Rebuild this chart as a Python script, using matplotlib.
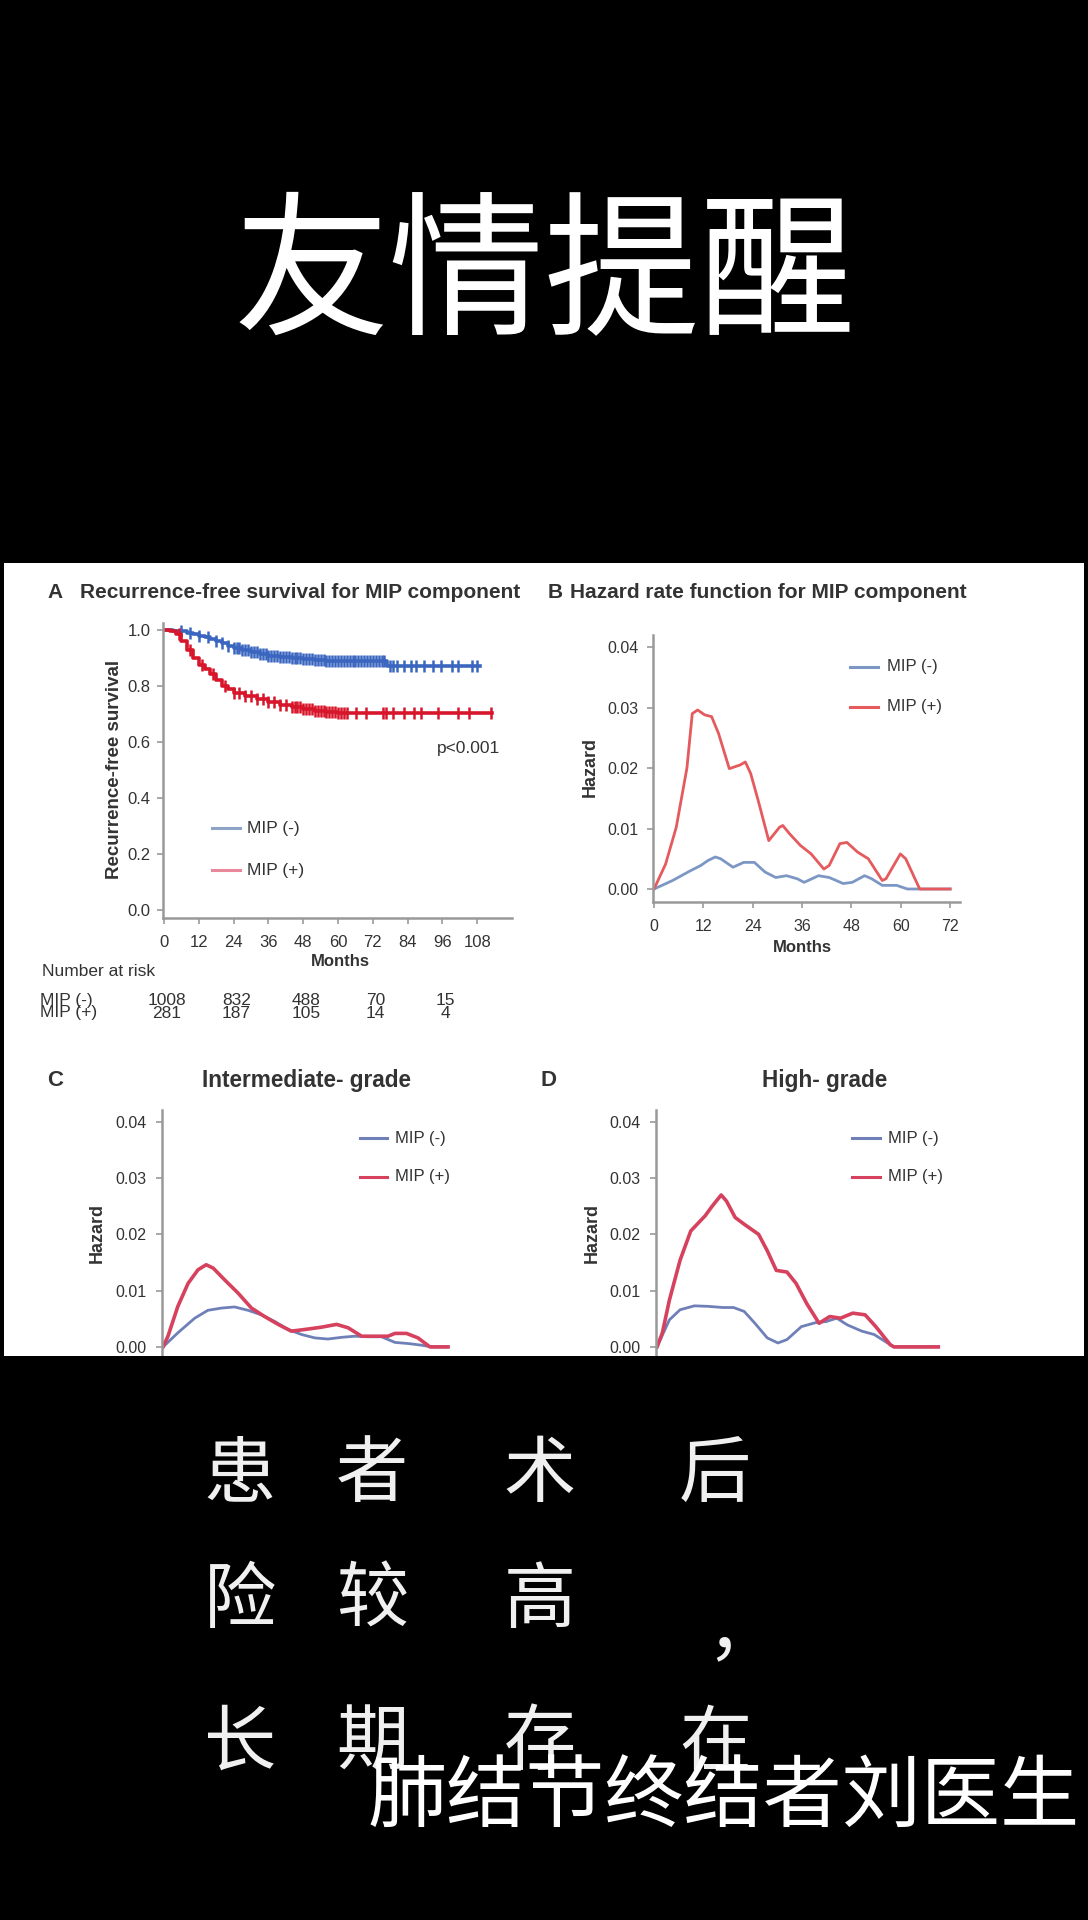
import numpy as np
import matplotlib
matplotlib.use("Agg")
import matplotlib.pyplot as plt
from matplotlib.patches import Rectangle
from matplotlib.lines import Line2D
from matplotlib.ticker import FormatStrFormatter

# ---- data ----
# A: Kaplan-Meier recurrence-free survival (step points)
KM_NEG_T = [0, 3, 6, 8, 10, 12, 14, 16, 18, 20, 22, 24, 27, 30, 33, 36, 40, 44, 48, 52, 56, 60, 77]
KM_NEG_S = [1.0, 0.998, 0.995, 0.99, 0.985, 0.98, 0.975, 0.968, 0.96, 0.952, 0.944, 0.936,
            0.928, 0.92, 0.913, 0.907, 0.902, 0.899, 0.896, 0.893, 0.891, 0.89, 0.87]
KM_POS_T = [0, 2, 4, 6, 8, 10, 12, 14, 16, 18, 20, 22, 24, 28, 32, 36, 40, 44, 48, 52, 56, 60]
KM_POS_S = [1.0, 0.995, 0.985, 0.96, 0.93, 0.9, 0.876, 0.86, 0.842, 0.82, 0.8, 0.788, 0.776,
            0.764, 0.752, 0.742, 0.732, 0.724, 0.716, 0.71, 0.706, 0.702]
CENS_NEG = [6, 9, 12, 15, 18, 20, 22, 24, 25, 26, 27, 28, 29, 30, 31, 32, 33, 34, 35, 36, 37, 38,
            39, 40, 41, 42, 43, 44, 45, 46, 47, 48, 49, 50, 51, 52, 53, 54, 55, 56, 57, 58, 59,
            60, 61, 62, 63, 64, 65, 66, 67, 68, 69, 70, 71, 72, 73, 74, 75, 76, 77.9, 79, 80.3,
            82.6, 85, 86.8, 89.7, 92.7, 95.6, 99.2, 101.5, 106.3, 108]
CENS_POS = [5, 9, 13, 17, 21, 24, 26, 28, 30, 32, 34, 36, 38, 40, 42, 44, 45, 46, 47, 48, 49, 50,
            51, 52, 53, 54, 55, 56, 57, 58, 59, 60, 61, 62, 63, 66.1, 69.7, 75.6, 76.7, 79.1,
            82.6, 86.2, 88.5, 94.5, 101.5, 105.1, 112.7]
KM_END_NEG = 109
KM_END_POS = 113
RISK_MONTHS = [0, 24, 48, 72, 96]
RISK_NEG = [1008, 832, 488, 70, 15]
RISK_POS = [281, 187, 105, 14, 4]

# B: hazard rate, all patients
B_NEG_X = [0, 4.5, 8.8, 11.4, 13.1, 14.9, 16.2, 19.2, 21.8, 24.4, 27, 29.6, 32.2, 34.8, 36.5,
           40, 42.6, 46, 48.2, 51.2, 52.9, 55.5, 59, 61.6, 72]
B_NEG_Y = [0, 0.0014, 0.003, 0.0039, 0.0047, 0.0053, 0.005, 0.0036, 0.0044, 0.0044, 0.0028,
           0.0019, 0.0022, 0.0017, 0.0011, 0.0022, 0.0019, 0.0009, 0.0011, 0.0022, 0.0017,
           0.0006, 0.0006, 0, 0]
B_POS_X = [0, 2.8, 5.4, 8.0, 9.3, 10.6, 12.3, 14, 15.7, 18.3, 20.9, 22.2, 23.5, 25.3, 27.9,
           30.5, 31.3, 33.0, 35.6, 38.2, 41.3, 42.6, 45.2, 46.9, 49.5, 52.1, 55.5, 56.4, 59.9,
           61.2, 64.6, 72]
B_POS_Y = [0, 0.0041, 0.0102, 0.020, 0.029, 0.0296, 0.0288, 0.0285, 0.0257, 0.0199, 0.0205,
           0.021, 0.0191, 0.0147, 0.008, 0.0102, 0.0105, 0.0091, 0.0072, 0.0058, 0.0033,
           0.0039, 0.0075, 0.0077, 0.0061, 0.005, 0.0014, 0.0017, 0.0058, 0.005, 0, 0]

# C: intermediate grade
C_NEG_X = [0, 3.6, 7.7, 10.9, 14.2, 17.4, 20.7, 23.9, 27.2, 30.4, 33.7, 36.9, 40.1, 43.4, 46.6,
           49.9, 53.1, 56.4, 59.6, 62.9, 65.3, 69.3]
C_NEG_Y = [0, 0.0025, 0.0051, 0.0065, 0.0069, 0.0071, 0.0065, 0.0057, 0.0045, 0.0031, 0.0022,
           0.0016, 0.0014, 0.0017, 0.0019, 0.0018, 0.0018, 0.0008, 0.0006, 0.0003, 0, 0]
C_POS_X = [0, 1.2, 3.6, 6.1, 8.5, 10.5, 12.2, 15, 18.2, 21.5, 24.7, 28, 31.2, 34.5, 38.5, 42.2,
           45, 48.3, 51.5, 54.7, 56.4, 59.2, 62, 64.9, 69.3]
C_POS_Y = [0, 0.0019, 0.0072, 0.0113, 0.0137, 0.0146, 0.014, 0.0119, 0.0096, 0.0069, 0.0054,
           0.004, 0.0028, 0.0031, 0.0035, 0.004, 0.0034, 0.0019, 0.0019, 0.0019, 0.0024,
           0.0024, 0.0016, 0, 0]

# D: high grade
D_NEG_X = [0, 3, 5.6, 9.1, 12.6, 16, 18.6, 21.2, 23.8, 26.8, 29.4, 31.6, 35.1, 38.5, 41.1,
           43.7, 46.3, 49.8, 52.8, 56.7, 57.6, 68.4]
D_NEG_Y = [0, 0.0048, 0.0066, 0.0073, 0.0072, 0.007, 0.007, 0.0063, 0.0042, 0.0016, 0.0007,
           0.0013, 0.0036, 0.0043, 0.0045, 0.0051, 0.0039, 0.0028, 0.0022, 0.0004, 0, 0]
D_POS_X = [0, 1.3, 3, 5.6, 8.2, 11.7, 13.4, 15.6, 16.9, 19, 21.2, 24.7, 26.8, 29, 31.6, 33.8,
           36.4, 39.4, 42, 44.6, 47.6, 50.6, 53.2, 56.7, 57.6, 68.4]
D_POS_Y = [0, 0.0025, 0.0083, 0.0154, 0.0206, 0.0233, 0.025, 0.027, 0.0259, 0.023, 0.0218,
           0.02, 0.0171, 0.0136, 0.0133, 0.0113, 0.0077, 0.0042, 0.0054, 0.0051, 0.006, 0.0057,
           0.0036, 0.0004, 0, 0]

TITLE_TOP = "友情提醒"
GRID_ROWS = ["患者术后", "险较高，", "长期存在"]
WATERMARK = "肺结节终结者刘医生"
LEGEND_LABELS = ["MIP (-)", "MIP (+)"]

# ---- styling ----
W, H = 1088, 1920
KM_BLUE, KM_RED = "#3a66c0", "#d8162b"
HZ_BLUE, HZ_RED = "#7d97c4", "#e55a5c"
G_BLUE, G_RED = "#6f80b8", "#d6415e"
AX_GRAY = "#999999"
TXT = "#333333"

plt.rcParams["font.family"] = ["Liberation Sans", "DejaVu Sans"]
CJK = ["Noto Sans CJK SC", "DejaVu Sans"]

fig = plt.figure(figsize=(W / 100, H / 100), dpi=100, facecolor="black")


def fx(x):
    return x / W


def fy(y):
    return 1 - y / H


def add_ax(left, top, right, bottom):
    return fig.add_axes([fx(left), fy(bottom), (right - left) / W, (bottom - top) / H])


def style(ax, fs, xpad, ypad):
    for s in ("top", "right"):
        ax.spines[s].set_visible(False)
    for s in ("left", "bottom"):
        ax.spines[s].set_color(AX_GRAY)
        ax.spines[s].set_linewidth(1.8)
    ax.tick_params(colors=AX_GRAY, labelcolor=TXT, labelsize=fs, length=4, width=1.2)
    ax.tick_params(axis="x", pad=xpad)
    ax.tick_params(axis="y", pad=ypad)
    ax.set_facecolor("white")


def labels(ax, ylab, ycoords, xlab=None, xcoords=None, fs=13):
    ax.set_ylabel(ylab, fontsize=fs, fontweight="bold", color=TXT)
    ax.yaxis.set_label_coords(*ycoords)
    ax.yaxis.label.set_va("center")
    if xlab:
        ax.set_xlabel(xlab, fontsize=12, fontweight="bold", color=TXT)
        ax.xaxis.set_label_coords(*xcoords)
        ax.xaxis.label.set_va("center")


def legend(colors, x0, x1, xt, ys, fs=12):
    for col, lab, yy in zip(colors, LEGEND_LABELS, ys):
        fig.add_artist(Line2D([fx(x0), fx(x1)], [fy(yy), fy(yy)], color=col, lw=2.2,
                              transform=fig.transFigure))
        fig.text(fx(xt), fy(yy), lab, fontsize=fs, color=TXT, va="center")


# white panel behind the charts
fig.add_artist(Rectangle((fx(4), fy(1356)), (1084 - 4) / W, (1356 - 563) / H,
                         transform=fig.transFigure, facecolor="white", edgecolor="none",
                         zorder=-1))

# ---- A: KM ----
axA = add_ax(163, 623, 512, 918)
style(axA, 12, 8, 5)
for t, s, cens, end, col in [(KM_NEG_T, KM_NEG_S, CENS_NEG, KM_END_NEG, KM_BLUE),
                             (KM_POS_T, KM_POS_S, CENS_POS, KM_END_POS, KM_RED)]:
    tt = np.array(t + [end])
    ss = np.array(s + [s[-1]])
    axA.step(tt, ss, where="post", color=col, lw=2.6)
    idx = np.searchsorted(tt, cens, side="right") - 1
    axA.plot(cens, ss[idx], ls="none", marker="|", ms=8, mew=1.8, color=col)
axA.set_xlim(-0.35, 120)
axA.set_ylim(-0.029, 1.025)
axA.set_xticks(range(0, 109, 12))
axA.set_yticks([0, 0.2, 0.4, 0.6, 0.8, 1.0])
axA.yaxis.set_major_formatter(FormatStrFormatter("%.1f"))
labels(axA, "Recurrence-free survival", (-0.140, 0.502), "Months", (0.507, -0.149), fs=13.5)
fig.text(fx(500), fy(748), "p<0.001", fontsize=12.5, color=TXT, ha="right", va="center")
legend(["#8ea3c6", "#e8889a"], 212, 240, 247, [828, 870], fs=12.5)

fig.text(fx(42), fy(972), "Number at risk", fontsize=12.5, color=TXT, va="center")
for row, (lab, vals) in enumerate([("MIP (-)", RISK_NEG), ("MIP (+)", RISK_POS)]):
    yy = fy(1000 + 13 * row)
    fig.text(fx(40), yy, lab, fontsize=12.5, color=TXT, va="center")
    for m, v in zip(RISK_MONTHS, vals):
        xd = axA.transData.transform((m, 0))[0]
        fig.text((xd + 3) / W, yy, str(v), fontsize=12.5, color=TXT, va="center", ha="center")

fig.text(fx(47), fy(593), "A", fontsize=15, fontweight="bold", color=TXT, va="center")
fig.text(fx(80), fy(593), "Recurrence-free survival for MIP component", fontsize=15,
         fontweight="bold", color=TXT, va="center")

# ---- B: hazard, all ----
axB = add_ax(653, 635, 960, 902)
style(axB, 11.5, 8, 6.5)
axB.plot(B_NEG_X, B_NEG_Y, color=HZ_BLUE, lw=2.0)
axB.plot(B_POS_X, B_POS_Y, color=HZ_RED, lw=2.0)
axB.set_xlim(-0.25, 74.4)
axB.set_ylim(-0.00215, 0.042)
axB.set_xticks(range(0, 73, 12))
axB.set_yticks([0, 0.01, 0.02, 0.03, 0.04])
axB.yaxis.set_major_formatter(FormatStrFormatter("%.2f"))
labels(axB, "Hazard", (-0.205, 0.506), "Months", (0.485, -0.169))
legend([HZ_BLUE, HZ_RED], 850, 878, 887, [667, 707])
fig.text(fx(548), fy(593), "B", fontsize=15, fontweight="bold", color=TXT, va="center")
fig.text(fx(570), fy(593), "Hazard rate function for MIP component", fontsize=15,
         fontweight="bold", color=TXT, va="center")

# ---- C / D: hazard by grade ----
panels = [(162, C_NEG_X, C_NEG_Y, C_POS_X, C_POS_Y, "C", 47, "Intermediate- grade", 306,
           -0.212, (360, 387, 395)),
          (656, D_NEG_X, D_NEG_Y, D_POS_X, D_POS_Y, "D", 540, "High- grade", 825,
           -0.208, (852, 880, 888))]
for left, nx, ny, px_, py_, letter, lx, title, tx, ylx, leg in panels:
    ax = add_ax(left, 1110, left + 307, 1359)
    style(ax, 11.5, 8, 7)
    ax.plot(nx, ny, color=G_BLUE, lw=2.0)
    ax.plot(px_, py_, color=G_RED, lw=2.6)
    ax.set_xlim(-0.25, 74.4)
    ax.set_ylim(-0.00215, 0.0421)
    ax.set_xticks(range(0, 73, 12))
    ax.set_yticks([0, 0.01, 0.02, 0.03, 0.04])
    ax.yaxis.set_major_formatter(FormatStrFormatter("%.2f"))
    labels(ax, "Hazard", (ylx, 0.506))
    legend([G_BLUE, G_RED], leg[0], leg[1], leg[2], [1138, 1177])
    fig.text(fx(lx), fy(1081), letter, fontsize=16, fontweight="bold", color=TXT, va="center")
    fig.text(fx(tx), fy(1081), title, fontsize=16.3, fontweight="bold", color=TXT,
             va="center", ha="center")

# black background below the chart crop
fig.add_artist(Rectangle((0, 0), 1, fy(1356), transform=fig.transFigure,
                         facecolor="black", edgecolor="none", zorder=5))

# ---- Chinese overlay text ----
fig.text(fx(545), fy(278), TITLE_TOP, family=CJK, fontsize=112, color="white",
         ha="center", va="center", zorder=6)

COL_X = [240, 372, 540, 715]
ROW_Y = [1476, 1601, 1744]
PUNCT_SHIFT = (27, 32)
for r, line in enumerate(GRID_ROWS):
    for c, ch in enumerate(line):
        dx, dy = PUNCT_SHIFT if ch in "，," else (0, 0)
        fig.text(fx(COL_X[c] + dx), fy(ROW_Y[r] + dy), ch, family=CJK, fontsize=52,
                 color="#f0f0f0", ha="center", va="center", zorder=6)

fig.text(fx(367), fy(1798), WATERMARK, family=CJK, fontsize=57, fontweight="light",
         color="white", ha="left", va="center", zorder=7)

fig.savefig("out.png", dpi=100, facecolor="black")
